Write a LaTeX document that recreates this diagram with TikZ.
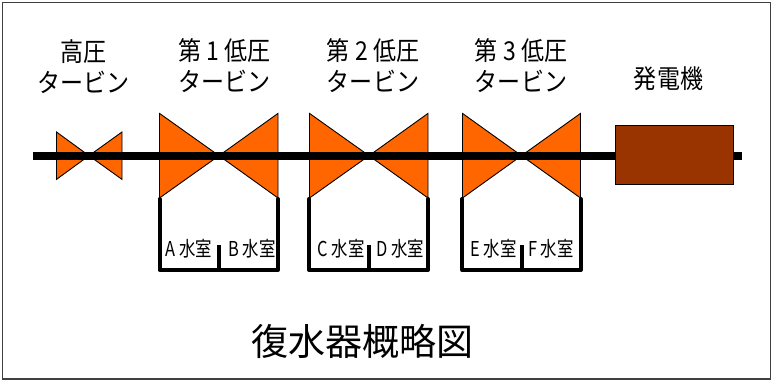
\documentclass[tikz,border=0pt]{standalone}
\usepackage{fontspec}
\setmainfont{Noto Sans CJK JP}
\newfontfamily\headfont[FakeStretch=0.885]{Noto Sans CJK JP}
\newfontfamily\roomfont[FakeStretch=0.8]{Noto Sans CJK JP}
\tikzset{
  x=1pt,y=-1pt,
  blade/.style={fill=bladeorange,draw=black,line width=0.9pt,line join=miter},
  chamber/.style={draw=black,line width=4pt,line join=round,line cap=round},
  divider/.style={draw=black,line width=4pt},
  head/.style={inner sep=0pt,align=center,font=\headfont\fontsize{26}{31}\selectfont},
  room/.style={inner sep=0pt,font=\roomfont\fontsize{20.5}{20.5}\selectfont},
}
\definecolor{bladeorange}{HTML}{FF6600}
\definecolor{genbrown}{HTML}{993300}
\newcommand{\turbine}[5]{% left apex right halfheight cy
  \fill[blade] (#1,#5-#4) -- (#2,#5) -- (#1,#5+#4) -- cycle;
  \fill[blade] (#3,#5-#4) -- (#2,#5) -- (#3,#5+#4) -- cycle;
}
\newcommand{\hall}[4]{% left mid right name
  \coordinate (#4tl) at (#1,199);
  \coordinate (#4bl) at (#1,270);
  \coordinate (#4tr) at (#3,199);
  \coordinate (#4br) at (#3,270);
  \coordinate (#4dt) at (#2,245);
  \coordinate (#4db) at (#2,272);
  \draw[chamber] (#4tl) -- (#4bl) -- (#4br) -- (#4tr);
  \draw[divider] (#4dt) -- (#4db);
}
\begin{document}
\begin{tikzpicture}
\useasboundingbox (0,0) rectangle (773,382);
\fill[white] (0,0) rectangle (773,382);
\draw[black!75,line width=1.2pt] (2.5,2.5) rectangle (770.5,379);

\turbine{56.5}{89}{122}{23.7}{155.7}
\turbine{159.5}{219}{278}{42.3}{155.7}
\turbine{309.5}{369}{428}{42.3}{155.7}
\turbine{462.5}{521.5}{580.5}{42.3}{155.7}

\coordinate (shaftL) at (32.5,156);
\coordinate (shaftR) at (741.5,156);
\draw[black,line width=8pt] (shaftL) -- (shaftR);
\node[draw=black,fill=genbrown,line width=0.9pt,minimum width=118.5pt,minimum height=59pt,inner sep=0pt] (gen) at (674.3,154.5) {};

\hall{159.5}{219}{278}{hA}
\hall{309}{368.7}{428}{hB}
\hall{462.3}{521.7}{580.7}{hC}

\node[head] (t0) at (83.5,67) {高圧\\タービン};
\node[head] (t1) at (224.5,66) {第 1 低圧\\タービン};
\node[head] (t2) at (373,66) {第 2 低圧\\タービン};
\node[head] (t3) at (521,66) {第 3 低圧\\タービン};
\node[head] (tg) at (668.5,79) {発電機};

\node[room] (rA) at (189,248.5) {A 水室};
\node[room] (rB) at (252,248.5) {B 水室};
\node[room] (rC) at (341,248.5) {C 水室};
\node[room] (rD) at (400,248.5) {D 水室};
\node[room] (rE) at (493.5,248.5) {E 水室};
\node[room] (rF) at (551,248.5) {F 水室};

\node[inner sep=0pt,font=\fontsize{37}{37}\selectfont] (title) at (362,341) {復水器概略図};
\end{tikzpicture}
\end{document}
